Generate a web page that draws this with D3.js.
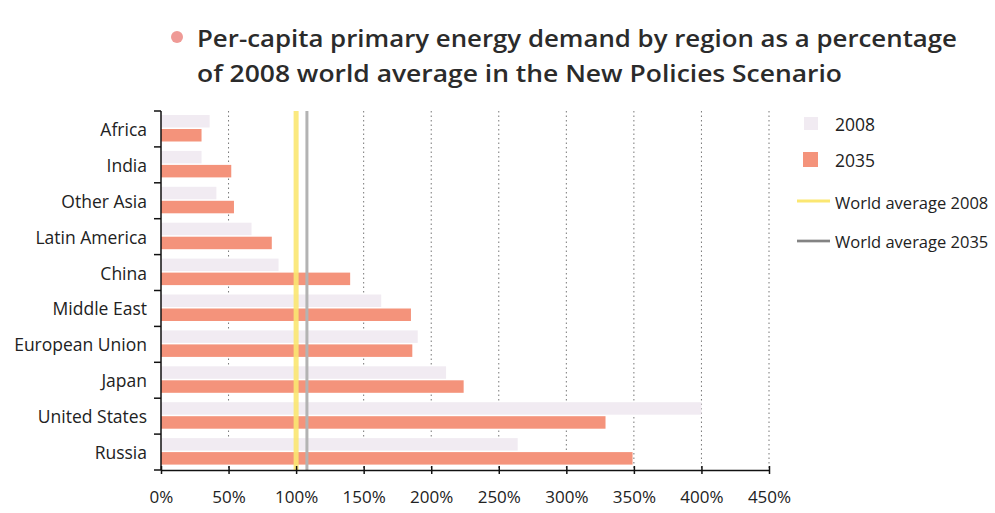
<!DOCTYPE html>
<html>
<head>
<meta charset="utf-8">
<script src="https://cdn.jsdelivr.net/npm/d3@7"></script>
<style>
  html, body { margin: 0; padding: 0; background: #fff; }
  svg { display: block; }
  .title { font-family: "Open Sans", sans-serif; font-weight: 600; fill: #2b2b2b; }
  .lbl { font-family: "Open Sans", sans-serif; fill: #222; }
</style>
</head>
<body>
<svg id="chart" width="995" height="513"></svg>
<script>
// Regions, top to bottom
const regions = ["Africa", "India", "Other Asia", "Latin America", "China",
  "Middle East", "European Union", "Japan", "United States", "Russia"];
// Per-capita demand as % of 2008 world average
const values2008 = [36, 30, 41, 67, 87, 163, 190, 211, 400, 264];
const values2035 = [30, 52, 54, 82, 140, 185, 186, 224, 329, 349];
// World averages (% of 2008 world average)
const worldAvg2008 = 100;
const worldAvg2035 = 108;
const xTicks = [0, 50, 100, 150, 200, 250, 300, 350, 400, 450];

const colors = { y2008: "#f1ebf2", y2035: "#f4937b", avg2008: "#fbe772", avg2035: "#b3b3b3" };

const svg = d3.select("#chart");
const margin = { left: 161, right: 226, top: 111, bottom: 43 };
const W = 995, H = 513;
const x = d3.scaleLinear().domain([0, 450]).range([margin.left, W - margin.right]);
const y = d3.scaleBand().domain(regions).range([margin.top, H - margin.bottom]);

// Title
const title = svg.append("g");
title.append("circle").attr("cx", 177).attr("cy", 37).attr("r", 6).attr("fill", "#ef9a96");
title.append("text").attr("class", "title").attr("x", 197).attr("y", 47).attr("font-size", 24)
  .attr("textLength", 760).attr("lengthAdjust", "spacingAndGlyphs")
  .text("Per-capita primary energy demand by region as a percentage");
title.append("text").attr("class", "title").attr("x", 197).attr("y", 82).attr("font-size", 24)
  .attr("textLength", 645).attr("lengthAdjust", "spacingAndGlyphs")
  .text("of 2008 world average in the New Policies Scenario");

// Dotted grid lines
svg.append("g").selectAll("line").data(xTicks.filter(d => d > 0 && d !== 100)).join("line")
  .attr("x1", d => x(d)).attr("x2", d => x(d))
  .attr("y1", y.range()[0]).attr("y2", y.range()[1])
  .attr("stroke", "#777").attr("stroke-width", 1).attr("stroke-dasharray", "1.5,3");

// Bars
const barH = 12.5;
const bars = svg.append("g");
bars.selectAll("rect.b08").data(regions).join("rect").attr("class", "b08")
  .attr("x", x(0)).attr("y", d => y(d) + 4)
  .attr("width", (d, i) => x(values2008[i]) - x(0)).attr("height", barH)
  .attr("fill", colors.y2008);
bars.selectAll("rect.b35").data(regions).join("rect").attr("class", "b35")
  .attr("x", x(0)).attr("y", d => y(d) + 18)
  .attr("width", (d, i) => x(values2035[i]) - x(0)).attr("height", barH)
  .attr("fill", colors.y2035);

// World average lines
svg.append("line").attr("x1", x(worldAvg2008)).attr("x2", x(worldAvg2008))
  .attr("y1", y.range()[0]).attr("y2", y.range()[1])
  .attr("stroke", colors.avg2008).attr("stroke-width", 5).attr("opacity", 0.9);
svg.append("line").attr("x1", x(worldAvg2035)).attr("x2", x(worldAvg2035))
  .attr("y1", y.range()[0]).attr("y2", y.range()[1])
  .attr("stroke", colors.avg2035).attr("stroke-width", 3);

// Axes
const xAxis = svg.append("g").attr("transform", `translate(0,${y.range()[1]})`)
  .call(d3.axisBottom(x).tickValues(xTicks).tickFormat(d => d + "%").tickSize(6).tickSizeOuter(0));
xAxis.select(".domain").attr("stroke", "#111").attr("stroke-width", 1.5);
xAxis.selectAll(".tick line").attr("stroke", "#111").attr("stroke-width", 1.5).attr("y1", -4).attr("y2", 4);
xAxis.selectAll(".tick text").attr("class", "lbl").attr("font-size", 17).attr("dy", "1.1em").attr("y", 14);

const yAxis = svg.append("g").attr("transform", `translate(${margin.left},0)`);
yAxis.append("line").attr("x1", 0).attr("x2", 0).attr("y1", y.range()[0]).attr("y2", y.range()[1])
  .attr("stroke", "#111").attr("stroke-width", 1.5);
const bounds = regions.map(r => y(r)).concat([y.range()[1]]);
yAxis.selectAll("line.tk").data(bounds).join("line").attr("class", "tk")
  .attr("x1", -7).attr("x2", 0).attr("y1", d => d).attr("y2", d => d)
  .attr("stroke", "#111").attr("stroke-width", 1.5);
yAxis.selectAll("text").data(regions).join("text").attr("class", "lbl")
  .attr("x", -14).attr("y", d => y(d) + y.bandwidth() / 2 + 7)
  .attr("text-anchor", "end").attr("font-size", 17.5).text(d => d);

// Legend
const lg = svg.append("g");
lg.append("rect").attr("x", 804).attr("y", 117).attr("width", 14).attr("height", 13).attr("fill", colors.y2008);
lg.append("rect").attr("x", 803).attr("y", 152).attr("width", 15).attr("height", 15).attr("fill", colors.y2035);
lg.append("line").attr("x1", 797).attr("x2", 830).attr("y1", 201).attr("y2", 201)
  .attr("stroke", colors.avg2008).attr("stroke-width", 3);
lg.append("line").attr("x1", 797).attr("x2", 830).attr("y1", 241).attr("y2", 241)
  .attr("stroke", "#555").attr("stroke-width", 2.5);
lg.append("line").attr("x1", 797).attr("x2", 830).attr("y1", 241).attr("y2", 241)
  .attr("stroke", colors.avg2035).attr("stroke-width", 1);
const legendItems = [["2008", 131], ["2035", 167], ["World average 2008", 209], ["World average 2035", 248]];
lg.selectAll("text").data(legendItems).join("text").attr("class", "lbl")
  .attr("x", 835).attr("y", d => d[1]).attr("font-size", d => d[0].length > 4 ? 16.5 : 17.5)
  .text(d => d[0]);
</script>
</body>
</html>
